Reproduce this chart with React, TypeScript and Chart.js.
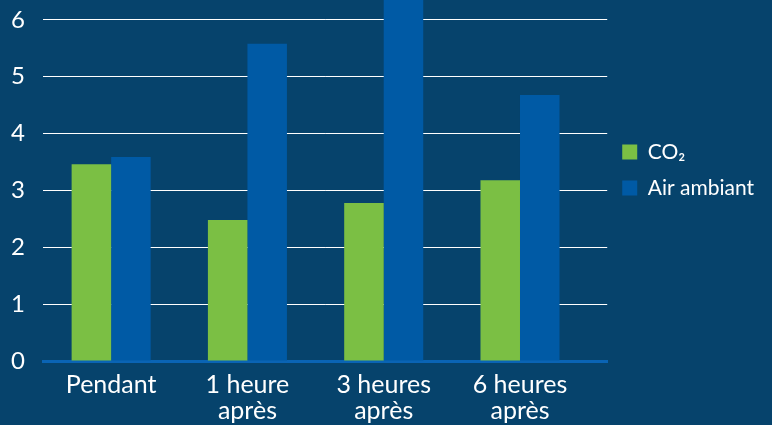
import React, { useEffect, useRef } from "react";
import { Chart, registerables } from "chart.js";
Chart.register(...registerables);

const categories: (string | string[])[] = ["Pendant", ["1 heure", "après"], ["3 heures", "après"], ["6 heures", "après"]];
const seriesNames = ["CO₂", "Air ambiant"];
const co2Values = [3.46, 2.48, 2.78, 3.18];
const airValues = [3.59, 5.58, 6.9, 4.68];
const yTicks = [0, 1, 2, 3, 4, 5, 6];

const BG = "#06436c";
const GREEN = "#7bbf44";
const BLUE = "#005aa5";
const AXIS_BLUE = "#0a64b4";
const FONT = "Lato, 'Open Sans', sans-serif";

export default function App() {
  const ref = useRef<HTMLCanvasElement>(null);
  useEffect(() => {
    const chart = new Chart(ref.current!, {
      type: "bar",
      data: {
        datasets: [
          { label: seriesNames[0], data: co2Values.map((y, i) => ({ x: i, y })), backgroundColor: GREEN, borderWidth: 0 },
          { label: seriesNames[1], data: airValues.map((y, i) => ({ x: i, y })), backgroundColor: BLUE, borderWidth: 0 },
        ],
      },
      options: {
        animation: false,
        responsive: false,
        layout: { padding: { left: 0, right: 8, top: 0, bottom: 0 } },
        datasets: { bar: { categoryPercentage: 0.58, barPercentage: 1 } },
        scales: {
          x: {
            type: "linear",
            min: -0.5,
            max: 3.64,
            offset: false,
            afterBuildTicks: (s: any) => {
              s.ticks = categories.map((_, i) => ({ value: i }));
            },
            afterFit: (s: any) => {
              s.paddingLeft = 0;
              s.paddingRight = 0;
              s.height = 64;
            },
            ticks: {
              callback: (v: any) => categories[v as number] ?? "",
              color: "#fff",
              font: { family: FONT, size: 25, lineHeight: 1.05 },
              padding: 11,
              maxRotation: 0,
              autoSkip: false,
            },
            grid: { display: false, drawTicks: false },
            border: { display: true, color: AXIS_BLUE, width: 3 },
          },
          y: {
            min: 0,
            max: 6.35,
            afterBuildTicks: (s: any) => {
              s.ticks = yTicks.map((v) => ({ value: v }));
            },
            afterFit: (s: any) => {
              s.paddingTop = 0;
              s.paddingBottom = 0;
              s.width = 43;
            },
            ticks: { color: "#fff", font: { family: FONT, size: 24 }, padding: 18 },
            grid: {
              color: (ctx: any) => (ctx.tick && ctx.tick.value === 0 ? "rgba(0,0,0,0)" : "#ffffff"),
              lineWidth: 1,
              drawTicks: false,
            },
            border: { display: false },
          },
        },
        plugins: {
          legend: {
            position: "right",
            align: "start",
            fullSize: false,
            title: { display: true, text: "", font: { size: 12, lineHeight: 1.2 }, padding: { top: 112, bottom: 0 } },
            labels: { color: "#fff", font: { family: FONT, size: 21 }, boxWidth: 15, boxHeight: 15, padding: 15 },
          },
          tooltip: { enabled: false },
        },
      },
    } as any);
    return () => chart.destroy();
  }, []);
  return (
    <div style={{ position: "absolute", left: 0, top: 0, width: 772, height: 425, background: BG }}>
      <canvas ref={ref} width={772} height={425} style={{ display: "block" }} />
    </div>
  );
}
